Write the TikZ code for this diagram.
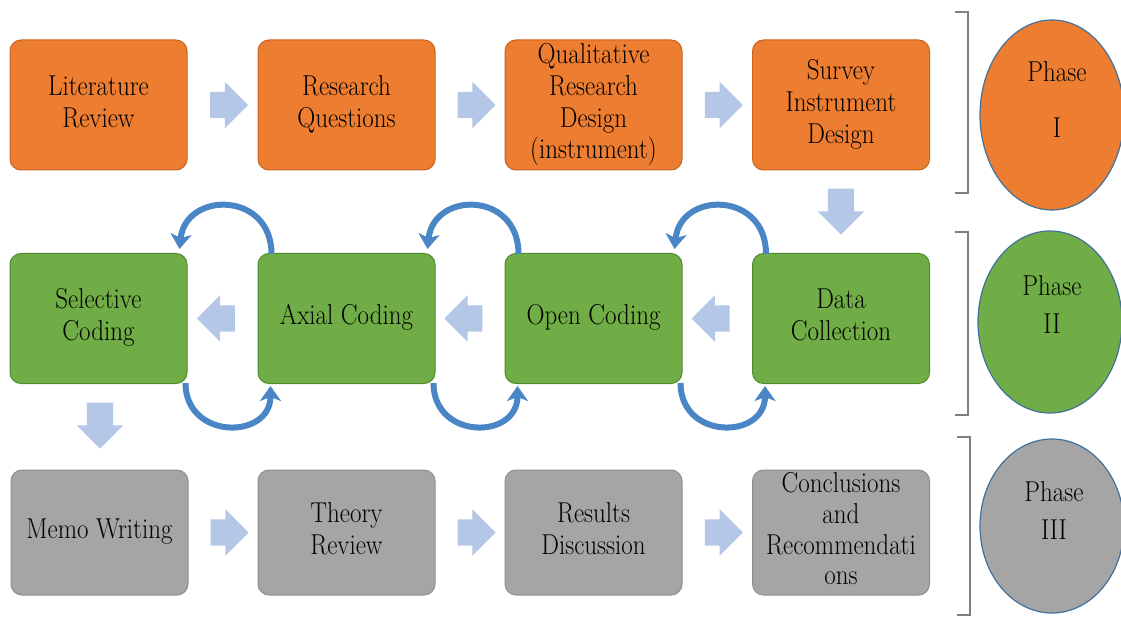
\documentclass[tikz,border=0pt]{standalone}
\usepackage{graphicx}
\usetikzlibrary{shapes.arrows,shapes.geometric,arrows.meta,calc}

\definecolor{orangefill}{HTML}{ED7D31}
\definecolor{orangeedge}{HTML}{C8631E}
\definecolor{greenfill}{HTML}{70AD47}
\definecolor{greenedge}{HTML}{4F8A2C}
\definecolor{greyfill}{HTML}{A5A5A5}
\definecolor{greyedge}{HTML}{8E8E8E}
\definecolor{flowblue}{HTML}{B4C7E7}
\definecolor{loopblue}{HTML}{4A86C5}
\definecolor{ringblue}{HTML}{41719C}
\definecolor{bracketgrey}{HTML}{7F7F7F}

% centred multi-line label, slightly stretched upright
\newcommand\talltext[1]{\scalebox{1}[1.15]{\begin{tabular}{@{}c@{}}#1\end{tabular}}}

\tikzset{
  stage/.style={rounded corners=11pt, minimum width=177pt, minimum height=130pt,
    align=center, inner sep=1pt, line width=1pt,
    font=\fontsize{25}{27.6}\selectfont},
  phaseone/.style={stage, fill=orangefill, draw=orangeedge},
  phasetwo/.style={stage, fill=greenfill, draw=greenedge},
  phasethree/.style={stage, fill=greyfill, draw=greyedge, minimum height=125pt},
  flow/.style={single arrow, fill=flowblue, draw=none, minimum height=38pt,
    inner xsep=0pt, inner ysep=13pt, single arrow head extend=10pt,
    single arrow head indent=0pt},
  flowdown/.style={flow, shape border rotate=270, inner xsep=13pt, inner ysep=0pt,
    minimum height=46pt},
  loop/.style={line width=6pt, draw=loopblue,
    -{Stealth[length=15pt,width=21pt,inset=4pt]}},
  phasering/.style={ellipse, draw=ringblue, line width=1.2pt, minimum width=144pt,
    minimum height=190pt},
  phasetext/.style={align=center, font=\fontsize{25}{32.5}\selectfont},
  bracket/.style={draw=bracketgrey, line width=1.4pt}
}

\begin{document}
\begin{tikzpicture}[x=1pt,y=-1pt]
\useasboundingbox (0,0) rectangle (1121,620);

% Phase I row
\node[phaseone] (lit)  at (98.5,105) {\talltext{Literature\\Review}};
\node[phaseone] (rq)   at (346.5,105) {\talltext{Research\\Questions}};
\node[phaseone] (qual) at (593.5,105) {\talltext{Qualitative\\Research\\Design\\(instrument)}};
\node[phaseone] (surv) at (841,105) {\talltext{Survey\\Instrument\\Design}};

% Phase II row
\node[phasetwo] (sel)  at (98.5,318.5) {\talltext{Selective\\Coding}};
\node[phasetwo] (axi)  at (346.5,318.5) {\talltext{Axial Coding}};
\node[phasetwo] (open) at (593.5,318.5) {\talltext{Open Coding}};
\node[phasetwo] (data) at (841,318.5) {\talltext{Data\\Collection}};

% Phase III row
\node[phasethree] (memo) at (99.5,532.5) {\talltext{Memo Writing}};
\node[phasethree] (theo) at (346.5,532.5) {\talltext{Theory\\Review}};
\node[phasethree] (res)  at (593.5,532.5) {\talltext{Results\\Discussion}};
\node[phasethree, inner sep=0pt, font=\fontsize{25}{26.8}\selectfont] (conc) at (841,532.5)
  {\talltext{Conclusions\\and\\Recommendati\\ons}};

% block arrows between stages
\node[flow] (f1) at ($(lit.east)!0.5!(rq.west)$) {};
\node[flow] (f2) at ($(rq.east)!0.5!(qual.west)$) {};
\node[flow] (f3) at ($(qual.east)!0.5!(surv.west)$) {};
\node[flowdown] (f4) at (841,205) {};
\node[flow, shape border rotate=180] (f5) at ($(data.west)!0.5!(open.east)$) {};
\node[flow, shape border rotate=180] (f6) at ($(open.west)!0.5!(axi.east)$) {};
\node[flow, shape border rotate=180] (f7) at ($(axi.west)!0.5!(sel.east)$) {};
\node[flowdown] (f8) at (100,419) {};
\node[flow] (f9)  at ($(memo.east)!0.5!(theo.west)$) {};
\node[flow] (f10) at ($(theo.east)!0.5!(res.west)$) {};
\node[flow] (f11) at ($(res.east)!0.5!(conc.west)$) {};

% feedback loops between coding stages
\foreach \r/\l in {axi/sel, open/axi, data/open}{
  \draw[loop] ([xshift=14pt,yshift=-1pt]\r.north west)
    .. controls ([xshift=14pt,yshift=62pt]\r.north west)
       and ([xshift=-2pt,yshift=62pt]\l.north east)
    .. ([xshift=-8pt,yshift=4pt]\l.north east);
  \draw[loop] ([xshift=-2pt,yshift=1pt]\l.south east)
    .. controls ([xshift=-2pt,yshift=-56pt]\l.south east)
       and ([xshift=13pt,yshift=-56pt]\r.south west)
    .. ([xshift=13pt,yshift=-2pt]\r.south west);
}

% phase brackets
\coordinate (b1t) at (955,12);   \coordinate (b1b) at (955,193);
\coordinate (b2t) at (955,232);  \coordinate (b2b) at (955,415);
\coordinate (b3t) at (957,437);  \coordinate (b3b) at (957,615);
\draw[bracket] (b1t) -- ++(13,0) |- (b1b);
\draw[bracket] (b2t) -- ++(13,0) |- (b2b);
\draw[bracket] (b3t) -- ++(13,0) |- (b3b);

% phase labels
\node[phasering, fill=orangefill] (p1) at (1052,115) {};
\node[phasering, fill=greenfill, minimum height=182pt] (p2) at (1050,322) {};
\node[phasering, fill=greyfill, minimum height=174pt] (p3) at (1052,526) {};
\node[phasetext] (t1) at (1057,102) {\talltext{Phase\\[16pt]I}};
\node[phasetext] (t2) at (1052,307) {\talltext{Phase\\II}};
\node[phasetext] (t3) at (1054,513) {\talltext{Phase\\III}};
\end{tikzpicture}
\end{document}
